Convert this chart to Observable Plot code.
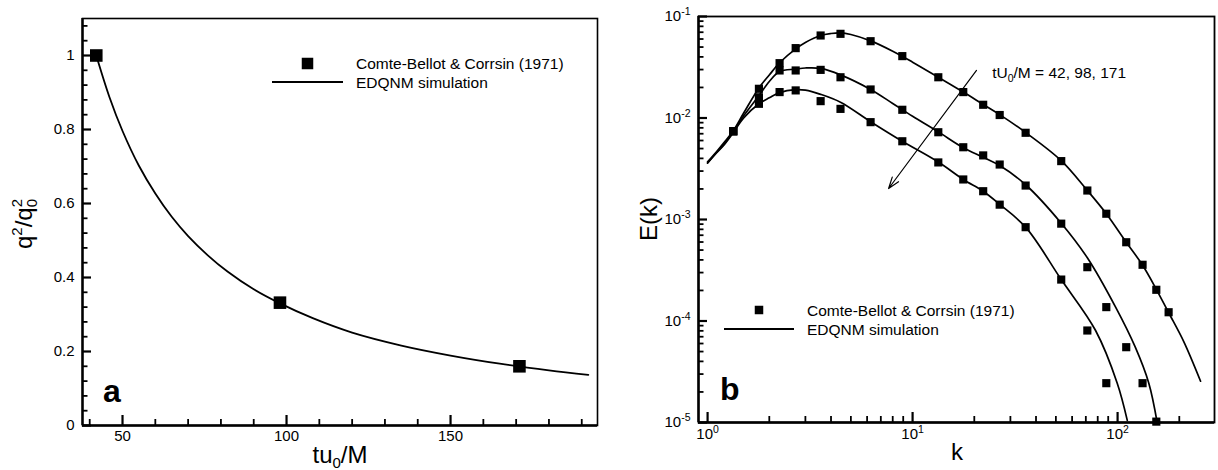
<!DOCTYPE html>
<html>
<head>
<meta charset="utf-8">
<script src="https://cdn.jsdelivr.net/npm/d3@7"></script>
<script src="https://cdn.jsdelivr.net/npm/@observablehq/plot@0.6"></script>
<style>
  html, body { margin: 0; padding: 0; background: #fff; }
  #wrap { display: flex; width: 1218px; height: 470px; overflow: hidden; }
  #wrap svg { flex: none; }
  svg text { font-family: "Liberation Sans", Arial, Helvetica, sans-serif; }
</style>
</head>
<body>
<div id="wrap"></div>
<script>
// ---------------- Panel a data ----------------
const expTime = [42, 98, 171];
const expEnergy = [1.0, 0.332, 0.16];
const simTime = [42, 46, 50, 55, 60, 65, 70, 76, 82, 90, 98, 108, 120, 135, 150, 165, 180, 192];
const simEnergy = [1.0, 0.888, 0.796, 0.702, 0.627, 0.564, 0.512, 0.460, 0.416, 0.368, 0.330, 0.290, 0.251, 0.216, 0.189, 0.167, 0.149, 0.137];
const aMajorX = [50, 100, 150];
const aMinorX = [40, 60, 70, 80, 90, 110, 120, 130, 140, 160, 170, 180, 190];
const aMajorY = [0, 0.2, 0.4, 0.6, 0.8, 1];
const aMinorY = [0.04, 0.08, 0.12, 0.16, 0.24, 0.28, 0.32, 0.36, 0.44, 0.48, 0.52, 0.56, 0.64, 0.68, 0.72, 0.76, 0.84, 0.88, 0.92, 0.96, 1.04, 1.08];
const aDomainX = [37.8, 194.8];
const aDomainY = [0, 1.1];

// ---------------- Panel b data ----------------
const expK = [1.335, 1.78, 2.245, 2.69, 3.56, 4.45, 6.24, 8.91, 13.35, 17.67, 22.1, 26.6, 35.6, 53.1, 71.2, 88.1, 110.2, 132.4, 154.5, 177.4];
const expE42 = [0.0074, 0.0194, 0.0347, 0.0488, 0.065, 0.0675, 0.0571, 0.0407, 0.0252, 0.018, 0.0135, 0.0107, 0.00715, 0.00376, 0.00193, 0.00114, 0.000597, 0.000358, 0.000203, 0.000122];
const expE98 = [0.0074, 0.016, 0.0294, 0.0294, 0.0298, 0.0252, 0.0191, 0.01205, 0.00724, 0.00515, 0.00428, 0.00348, 0.00216, 0.00091, 0.000339, 0.000137, 0.0000552, 0.0000244, 0.0000102];
const expE171 = [0.0074, 0.0138, 0.018, 0.0187, 0.01466, 0.0123, 0.0091, 0.0059, 0.00365, 0.00248, 0.0019, 0.0014, 0.00084, 0.000256, 0.0000806, 0.0000244];

const simK42 = [1.0, 1.1, 1.2, 1.335, 1.5, 1.78, 2.0, 2.245, 2.69, 3.0, 3.56, 4.0, 4.45, 5.0, 6.24, 8.0, 10, 13.35, 17.67, 22.1, 26.6, 35.6, 53.1, 71.2, 88.1, 110, 132, 155, 177, 210, 254];
const simE42 = [0.0037, 0.0046, 0.0057, 0.0075, 0.0112, 0.0198, 0.0265, 0.035, 0.048, 0.0555, 0.065, 0.068, 0.069, 0.0665, 0.0575, 0.0455, 0.0355, 0.0252, 0.018, 0.0136, 0.0108, 0.0072, 0.0038, 0.00193, 0.00114, 0.0006, 0.000358, 0.000203, 0.000122, 0.000063, 0.0000255];
const simK98 = [1.0, 1.1, 1.2, 1.335, 1.5, 1.78, 2.0, 2.245, 2.69, 3.0, 3.56, 4.45, 6.24, 8.0, 10, 13.35, 17.67, 22.1, 26.6, 35.6, 53.1, 71.2, 97.8, 122, 142, 156];
const simE98 = [0.0036, 0.0045, 0.0055, 0.0073, 0.0105, 0.0166, 0.0229, 0.0287, 0.0303, 0.0311, 0.0308, 0.0266, 0.0191, 0.0139, 0.0104, 0.0073, 0.0051, 0.0041, 0.0034, 0.0022, 0.00092, 0.00042, 0.000137, 0.0000552, 0.0000244, 0.00001];
const simK171 = [1.0, 1.1, 1.2, 1.335, 1.5, 1.78, 2.0, 2.245, 2.69, 3.0, 3.56, 4.45, 6.24, 8.91, 13.35, 17.67, 22.1, 26.6, 35.6, 53.1, 78.1, 99.6, 111.5];
const simE171 = [0.0036, 0.0045, 0.0054, 0.0072, 0.0100, 0.0138, 0.0158, 0.0178, 0.019, 0.0188, 0.0171, 0.0143, 0.0092, 0.0059, 0.00368, 0.00248, 0.0019, 0.00141, 0.00084, 0.000256, 0.0000806, 0.0000244, 0.0000105];

const bMajorX = [1, 10, 100];
const bMinorX = [2, 3, 4, 5, 6, 7, 8, 9, 20, 30, 40, 50, 60, 70, 80, 90, 200];
const bMajorY = [1e-5, 1e-4, 1e-3, 1e-2, 1e-1];
const bMinorY = [2e-5, 3e-5, 4e-5, 5e-5, 6e-5, 7e-5, 8e-5, 9e-5,
                 2e-4, 3e-4, 4e-4, 5e-4, 6e-4, 7e-4, 8e-4, 9e-4,
                 2e-3, 3e-3, 4e-3, 5e-3, 6e-3, 7e-3, 8e-3, 9e-3,
                 2e-2, 3e-2, 4e-2, 5e-2, 6e-2, 7e-2, 8e-2, 9e-2];
const bDomainX = [0.903, 297];
const bDomainY = [1e-5, 1e-1];

const arrowK = [20.5, 7.64];
const arrowE = [0.0294, 0.00202];
const annotK = 24.6, annotE = 0.0274;
const annotParts = ["tU", "0", "/M = 42, 98, 171"];

const legendLabels = ["Comte-Bellot & Corrsin (1971)", "EDQNM simulation"];
const panelLetters = ["a", "b"];

// ---------------- helpers ----------------
const FONT = '"Liberation Sans", Arial, Helvetica, sans-serif';
const TICK = "black";
const zip = (xs, ys) => xs.map((x, i) => ({x, y: ys[i]}));
const W = 609, H = 470;

function supify(svg) {
  d3.select(svg).selectAll("text").each(function () {
    const m = this.textContent.match(/^10\^(-?\d+)$/);
    if (!m) return;
    const t = d3.select(this);
    t.text("10");
    t.append("tspan").attr("dy", "-6").attr("font-size", "10.5px").text(m[1]);
  });
}

function addLegend(svg, o) {
  const g = d3.select(svg).append("g").attr("text-anchor", "start");
  g.append("rect").attr("x", o.mx - o.ms / 2).attr("y", o.my - o.ms / 2)
    .attr("width", o.ms).attr("height", o.ms).attr("fill", "black");
  g.append("line").attr("x1", o.lx1).attr("x2", o.lx2).attr("y1", o.ly).attr("y2", o.ly)
    .attr("stroke", "black").attr("stroke-width", 1.8);
  g.append("text").attr("x", o.tx).attr("y", o.my + 5.5).attr("text-anchor", "start").attr("font-size", "15.5px").text(legendLabels[0]);
  g.append("text").attr("x", o.tx).attr("y", o.ly + 5.5).attr("text-anchor", "start").attr("font-size", "15.5px").text(legendLabels[1]);
}

function tickMarks(fw, fh, xMajor, xMinor, yMajor, yMinor) {
  return [
    Plot.ruleY(yMajor, {y: d => d, insetRight: fw - 9, stroke: TICK, strokeWidth: 2.2}),
    Plot.ruleY(yMinor, {y: d => d, insetRight: fw - 5.5, stroke: TICK, strokeWidth: 1.8}),
    Plot.ruleX(xMajor, {x: d => d, insetTop: fh - 10, stroke: TICK, strokeWidth: 2.2}),
    Plot.ruleX(xMinor, {x: d => d, insetTop: fh - 6, stroke: TICK, strokeWidth: 1.8})
  ];
}

// ---------------- Panel a ----------------
const mA = {left: 82, right: 12, top: 18, bottom: 45};
const plotA = Plot.plot({
  width: W, height: H,
  marginLeft: mA.left, marginRight: mA.right, marginTop: mA.top, marginBottom: mA.bottom,
  style: {fontFamily: FONT, fontSize: "15px", color: "black", background: "white"},
  x: {domain: aDomainX},
  y: {domain: aDomainY},
  marks: [
    Plot.frame({stroke: "black", strokeWidth: 1.6}),
    ...tickMarks(W - mA.left - mA.right, H - mA.top - mA.bottom, aMajorX, aMinorX, aMajorY, aMinorY),
    Plot.ruleX([aDomainX[0]], {stroke: "black", strokeWidth: 2.4}),
    Plot.ruleY([aDomainY[0]], {stroke: "black", strokeWidth: 2.4}),
    Plot.axisX(aMajorX, {tickSize: 0, tickPadding: 5, label: null, fontSize: 15}),
    Plot.axisY(aMajorY, {tickSize: 0, tickPadding: 8, label: null, fontSize: 15, tickFormat: d => String(d)}),
    Plot.line(zip(simTime, simEnergy), {x: "x", y: "y", curve: "catmull-rom", stroke: "black", strokeWidth: 1.8}),
    Plot.dot(zip(expTime, expEnergy), {x: "x", y: "y", symbol: "square", r: 7.1, fill: "black", stroke: "none"})
  ]
});

// ---------------- Panel b ----------------
const mB = {left: 89, right: 4, top: 16, bottom: 48};
const lineOpts = {x: "x", y: "y", curve: "catmull-rom", stroke: "black", strokeWidth: 1.7, clip: true};
const dotOpts = {x: "x", y: "y", symbol: "square", r: 4.6, fill: "black", stroke: "none"};
const plotB = Plot.plot({
  width: W, height: H,
  marginLeft: mB.left, marginRight: mB.right, marginTop: mB.top, marginBottom: mB.bottom,
  style: {fontFamily: FONT, fontSize: "15px", color: "black", background: "white"},
  x: {type: "log", domain: bDomainX},
  y: {type: "log", domain: bDomainY},
  marks: [
    Plot.frame({stroke: "black", strokeWidth: 1.8}),
    ...tickMarks(W - mB.left - mB.right, H - mB.top - mB.bottom, bMajorX, bMinorX, bMajorY, bMinorY),
    Plot.ruleX([bDomainX[0]], {stroke: "black", strokeWidth: 2.4}),
    Plot.ruleY([bDomainY[0]], {stroke: "black", strokeWidth: 2.4}),
    Plot.axisX(bMajorX, {tickSize: 0, tickPadding: 6, label: null, fontSize: 15, tickFormat: d => "10^" + Math.round(Math.log10(d))}),
    Plot.axisY(bMajorY, {tickSize: 0, tickPadding: 8, label: null, fontSize: 15, tickFormat: d => "10^" + Math.round(Math.log10(d))}),
    Plot.line(zip(simK42, simE42), lineOpts),
    Plot.line(zip(simK98, simE98), lineOpts),
    Plot.line(zip(simK171, simE171), lineOpts),
    Plot.dot(zip(expK.slice(0, expE42.length), expE42), dotOpts),
    Plot.dot(zip(expK.slice(0, expE98.length), expE98), dotOpts),
    Plot.dot(zip(expK.slice(0, expE171.length), expE171), dotOpts),
    Plot.arrow([0], {x1: () => arrowK[0], y1: () => arrowE[0], x2: () => arrowK[1], y2: () => arrowE[1],
      stroke: "black", strokeWidth: 1.2, headLength: 15, headAngle: 38})
  ]
});

const wrap = document.getElementById("wrap");
wrap.appendChild(plotA);
wrap.appendChild(plotB);
supify(plotB);

// ---------------- Panel a annotations ----------------
{
  const s = d3.select(plotA);
  const yl = s.append("text").attr("transform", "translate(32,224) rotate(-90)")
    .attr("text-anchor", "middle").attr("font-size", "24px");
  yl.append("tspan").text("q");
  yl.append("tspan").attr("dy", -10).attr("font-size", "15px").text("2");
  yl.append("tspan").attr("dy", 10).text("/q");
  yl.append("tspan").attr("dy", 5).attr("font-size", "15px").text("0");
  yl.append("tspan").attr("dy", -15).attr("dx", -8.3).attr("font-size", "15px").text("2");

  const xl = s.append("text").attr("x", 340).attr("y", 463).attr("text-anchor", "middle").attr("font-size", "24px");
  xl.append("tspan").text("tu");
  xl.append("tspan").attr("dy", 5).attr("font-size", "15px").text("0");
  xl.append("tspan").attr("dy", -5).text("/M");

  s.append("text").attr("x", 103).attr("y", 402).attr("text-anchor", "start").attr("font-size", "32px").attr("font-weight", "bold").text(panelLetters[0]);

  addLegend(plotA, {mx: 307.5, my: 63.5, ms: 11.5, lx1: 272, lx2: 343, ly: 82, tx: 356});
}

// ---------------- Panel b annotations ----------------
{
  const s = d3.select(plotB);
  s.append("text").attr("transform", "translate(48,219) rotate(-90)")
    .attr("text-anchor", "middle").attr("font-size", "24px").text("E(k)");
  s.append("text").attr("x", 348).attr("y", 460).attr("text-anchor", "middle").attr("font-size", "24px").text("k");
  s.append("text").attr("x", 111).attr("y", 400).attr("text-anchor", "start").attr("font-size", "32px").attr("font-weight", "bold").text(panelLetters[1]);

  const sx = plotB.scale("x"), sy = plotB.scale("y");
  const at = s.append("text").attr("x", sx.apply(annotK)).attr("y", sy.apply(annotE)).attr("dy", "0.35em")
    .attr("text-anchor", "start").attr("font-size", "15.5px");
  at.append("tspan").text(annotParts[0]);
  at.append("tspan").attr("dy", 4).attr("font-size", "10.5px").text(annotParts[1]);
  at.append("tspan").attr("dy", -4).text(annotParts[2]);

  addLegend(plotB, {mx: 150, my: 310, ms: 8.5, lx1: 115, lx2: 185, ly: 329, tx: 198});
}
</script>
</body>
</html>
